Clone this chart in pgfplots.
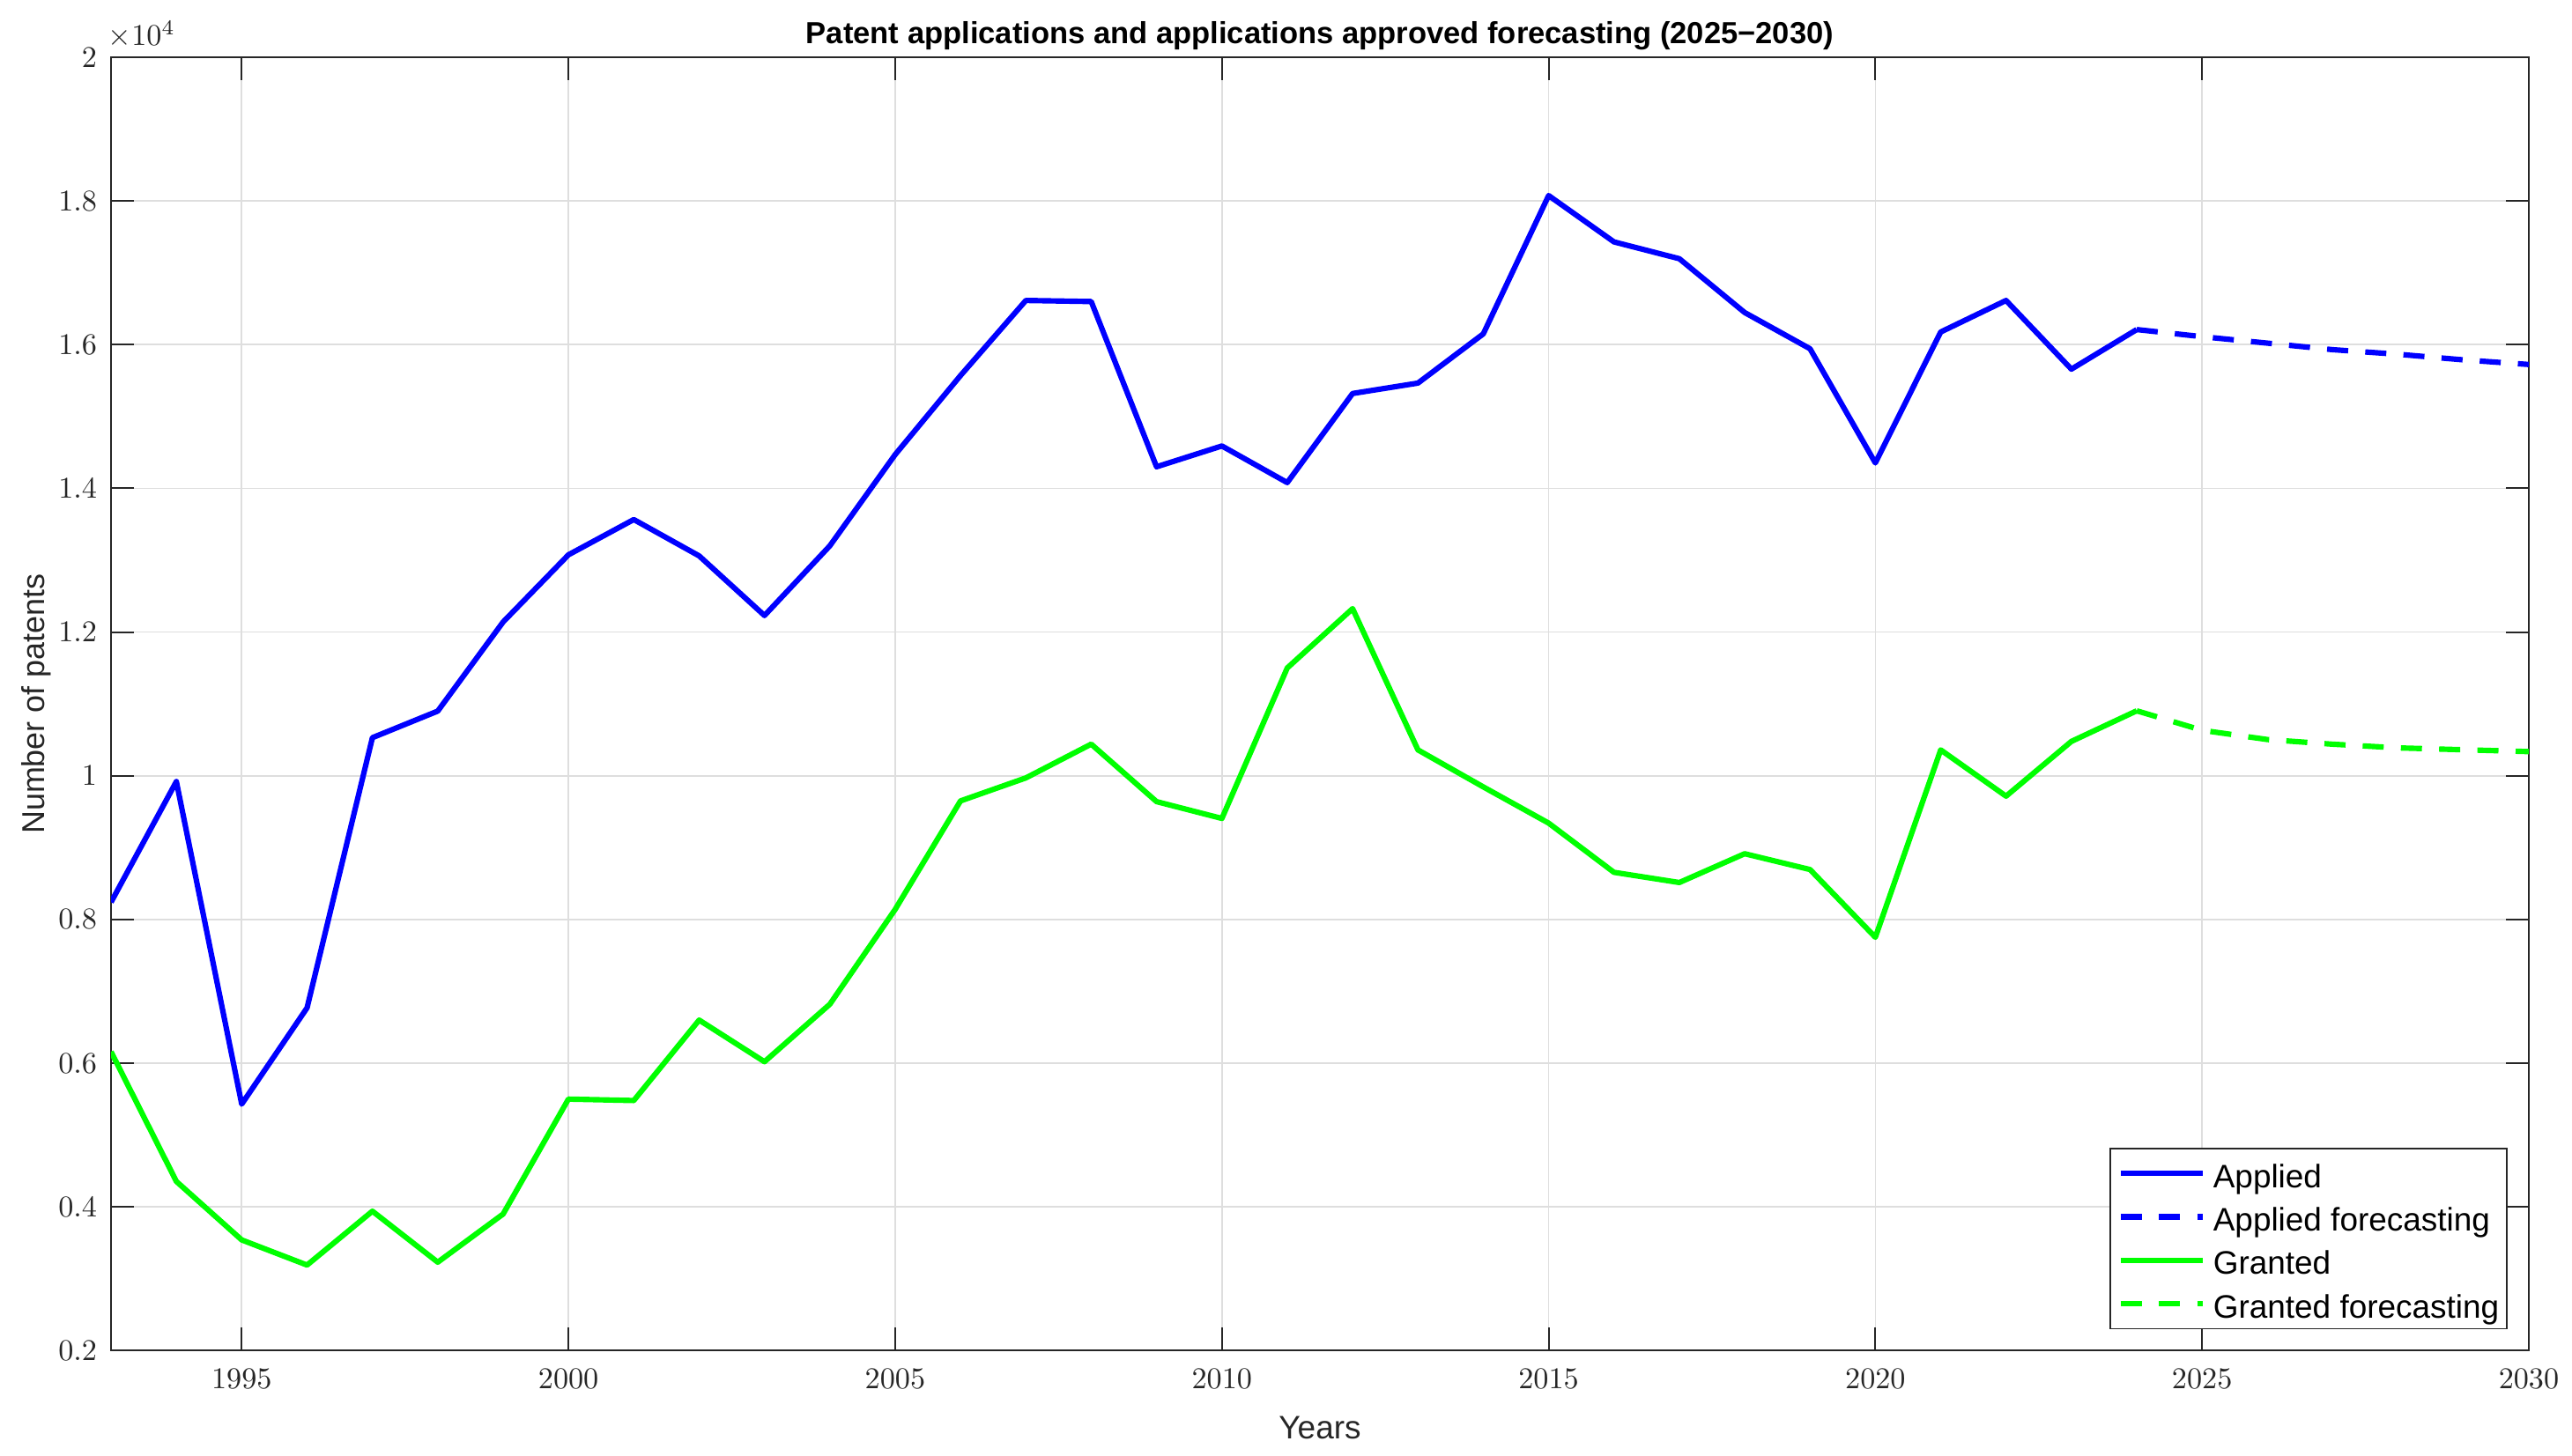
\documentclass[border=0pt]{standalone}
\usepackage{pgfplots}
\pgfplotsset{compat=1.18}
\usepackage{fontspec}
\setmainfont{Liberation Sans}
\definecolor{axgray}{rgb}{0.15,0.15,0.15}
\definecolor{gridgray}{rgb}{0.87,0.87,0.87}
\definecolor{mblue}{rgb}{0,0,1}
\definecolor{mgreen}{rgb}{0,1,0}

\pgfplotstableread{
year value
1993 8240
1994 9920
1995 5430
1996 6770
1997 10530
1998 10900
1999 12140
2000 13075
2001 13566
2002 13060
2003 12230
2004 13200
2005 14470
2006 15570
2007 16615
2008 16600
2009 14300
2010 14590
2011 14080
2012 15320
2013 15465
2014 16150
2015 18075
2016 17430
2017 17196
2018 16447
2019 15943
2020 14354
2021 16176
2022 16615
2023 15659
2024 16210
}\applied

\pgfplotstableread{
year value
2024 16210
2025 16111
2026 16021
2027 15930
2028 15866
2029 15788
2030 15724
}\appliedfc

\pgfplotstableread{
year value
1993 6160
1994 4354
1995 3540
1996 3190
1997 3940
1998 3230
1999 3900
2000 5500
2001 5480
2002 6600
2003 6020
2004 6820
2005 8140
2006 9650
2007 9970
2008 10440
2009 9640
2010 9406
2011 11500
2012 12326
2013 10360
2014 9845
2015 9341
2016 8656
2017 8514
2018 8915
2019 8695
2020 7752
2021 10360
2022 9716
2023 10478
2024 10904
}\granted

\pgfplotstableread{
year value
2024 10904
2025 10633
2026 10504
2027 10439
2028 10388
2029 10362
2030 10336
}\grantedfc

\begin{document}
\begin{tikzpicture}
\begin{axis}[
  scale only axis,
  width=28.20cm, height=15.09cm,
  xmin=1993, xmax=2030, ymin=2000, ymax=20000,
  xtick={1995,2000,...,2030},
  ytick={2000,4000,...,20000},
  scaled y ticks=base 10:-4,
  ytick scale label code/.code={$\times10^{#1}$},
  every y tick scale label/.style={at={(0,1.0089)}, anchor=base west, inner sep=0pt, font=\fontsize{10}{12}\selectfont, text=axgray},
  xticklabel style={/pgf/number format/1000 sep={}, font=\fontsize{10}{12}\selectfont, text=axgray, yshift=-0.09cm},
  yticklabel style={font=\fontsize{10}{12}\selectfont, text=axgray, xshift=-0.04cm},
  grid=major,
  major grid style={gridgray, line width=0.5pt},
  tick align=inside,
  major tick length=0.27cm,
  axis line style={axgray, line width=0.6pt},
  tick style={axgray, line width=0.6pt},
  every axis title shift=0pt,
  title={Patent applications and applications approved forecasting (2025−2030)},
  title style={font=\bfseries\fontsize{10.1}{12}\selectfont, at={(0.5,1.0106)}, anchor=base},
  xlabel={Years},
  xlabel style={font=\fontsize{10.8}{12}\selectfont, text=axgray, at={(0.5,-0.0681)}, anchor=base},
  ylabel={Number of patents},
  ylabel style={font=\fontsize{10.5}{12}\selectfont, text=axgray, at={(-0.0277,0.5)}, anchor=base, rotate=0},
  legend cell align=left,
  legend style={at={(0.9912,0.0164)}, anchor=south east,
    draw=axgray, line width=0.5pt, fill=white,
    font=\fontsize{10.8}{12}\selectfont,
    inner xsep=0.09cm, inner ysep=1.1pt,
    row sep=0pt, column sep=0.09cm,
    nodes={inner xsep=0pt, inner ysep=1.7pt, text height=10.2pt, text depth=0.8pt}},
  legend image code/.code={\draw[#1] (0cm,0pt) -- (0.956cm,0pt);},
  every axis plot/.append style={line width=1.8pt, line join=round},
]
\addplot[mblue, solid] table[x=year, y=value] {\applied};
\addlegendentry{Applied}
\addplot[mblue, dash pattern=on 7pt off 5.7pt] table[x=year, y=value] {\appliedfc};
\addlegendentry{Applied forecasting}
\addplot[mgreen, solid] table[x=year, y=value] {\granted};
\addlegendentry{Granted}
\addplot[mgreen, dash pattern=on 7pt off 5.7pt] table[x=year, y=value] {\grantedfc};
\addlegendentry{Granted forecasting}
\end{axis}
\pgfresetboundingbox
\path[use as bounding box] ([shift={(-1.295cm,-1.223cm)}]current axis.south west) rectangle ([shift={(0.504cm,0.668cm)}]current axis.north east);
\end{tikzpicture}
\end{document}
